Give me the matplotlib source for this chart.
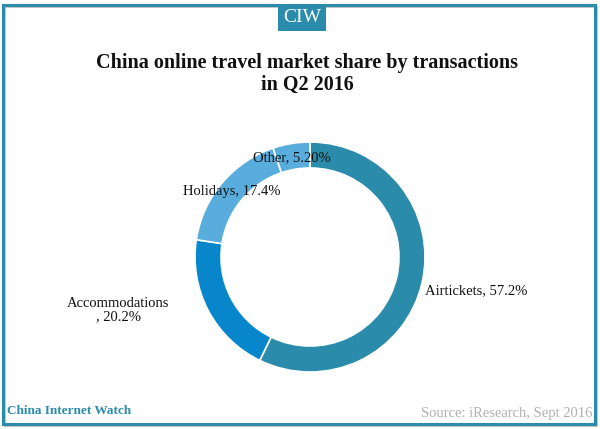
"""China online travel market share by transactions, Q2 2016 (donut)."""

import matplotlib
matplotlib.use("Agg")
import matplotlib.pyplot as plt
from matplotlib.patches import Rectangle

categories = ["Airtickets", "Accommodations", "Holidays", "Other"]
shares = [57.2, 20.2, 17.4, 5.2]
share_labels = ["57.2%", "20.2%", "17.4%", "5.20%"]

colors = ["#2b8bab", "#0786cc", "#58addc", "#58addc"]
TEAL = "#2b8bab"
SERIF = ["Liberation Serif", "DejaVu Serif"]

W, H = 600, 429
fig = plt.figure(figsize=(W / 100, H / 100), dpi=100)


def px(x, y):
    """Pixel coords (top-left origin) -> figure fraction."""
    return x / W, 1 - y / H


# --- frame + CIW tab ---------------------------------------------------------
frame = fig.add_axes([0, 0, 1, 1])
frame.set_xlim(0, W)
frame.set_ylim(H, 0)
frame.axis("off")
frame.add_patch(Rectangle((5, 7), 592, 419, fill=False, edgecolor="#c8c8c8", lw=1.5))
frame.add_patch(Rectangle((3, 5), 592, 419, fill=False, edgecolor=TEAL, lw=2.2))
frame.add_patch(Rectangle((278, 5), 48, 26, facecolor=TEAL, edgecolor="none"))
frame.text(302, 18, "CIW", color="white", ha="center", va="center",
           fontsize=14, family=SERIF)

# --- title -------------------------------------------------------------------
fig.text(*px(307, 74), "China online travel market share by transactions\nin Q2 2016",
         ha="center", va="center", fontsize=14.5, fontweight="bold",
         family=SERIF, linespacing=1.15, color="#111111")

# --- donut -------------------------------------------------------------------
cx, cy, size = 310, 257, 240
l, b = px(cx - size / 2, cy + size / 2)
ax = fig.add_axes([l, b, size / W, size / H])
ax.pie(shares, colors=colors, startangle=90, counterclock=False,
       radius=1.15, wedgeprops=dict(width=0.26, edgecolor="white", linewidth=1.2))
ax.set_xlim(-1.2, 1.2)
ax.set_ylim(-1.2, 1.2)
ax.set_aspect("equal")
ax.axis("off")

# data labels
label_pos = [(476, 291, "center"), (118, 310, "center"),
             (232, 192, "center"), (292, 158, "center")]
for cat, lab, (x, y, ha) in zip(categories, share_labels, label_pos):
    text = f"{cat}\n, {lab}" if cat == "Accommodations" else f"{cat}, {lab}"
    fig.text(*px(x, y), text, ha=ha, va="center", fontsize=10.5,
             family=SERIF, color="#111111", linespacing=1.0)

# --- footer ------------------------------------------------------------------
fig.text(*px(7, 411), "China Internet Watch", ha="left", va="center",
         fontsize=9.5, fontweight="bold", family=SERIF, color=TEAL)
fig.text(*px(592, 414), "Source: iResearch, Sept 2016", ha="right", va="center",
         fontsize=10.5, family=SERIF, color="#b0b0b0")

fig.savefig("out.png", dpi=100)
